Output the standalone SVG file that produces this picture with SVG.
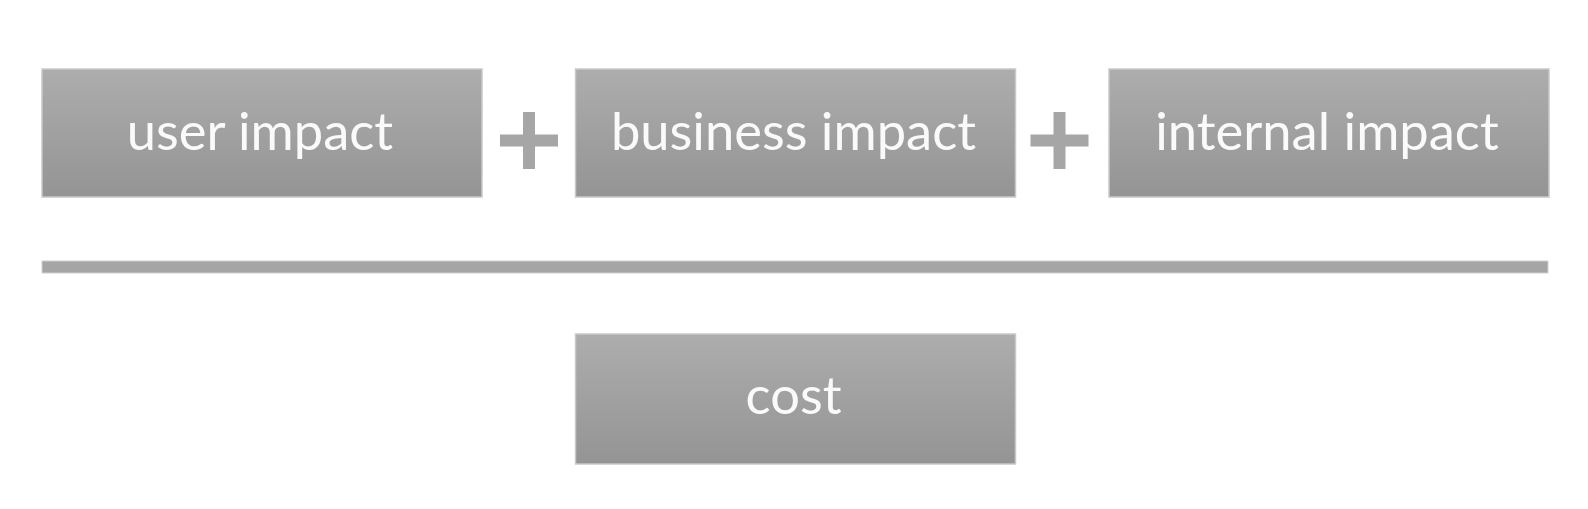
<svg xmlns="http://www.w3.org/2000/svg" width="1588" height="509" viewBox="0 0 1588 509">
<defs>
<linearGradient id="g" x1="0" y1="0" x2="0" y2="1">
<stop offset="0" stop-color="#adadad"/>
<stop offset="1" stop-color="#949494"/>
</linearGradient>
<style>
.box{fill:url(#g);stroke:#c9c9c9;stroke-width:1.5}
.lbl{font-family:Lato,"Liberation Sans",sans-serif;font-size:52.5px;fill:#fafafa;text-anchor:middle}
.op{fill:#a6a6a6}
</style>
</defs>
<rect width="1588" height="509" fill="#ffffff"/>
<g id="user-impact">
<rect class="box" x="42" y="69" width="440" height="128"/>
<text class="lbl" x="260" y="150">user impact</text>
</g>
<g id="plus1">
<rect class="op" x="523" y="112" width="12" height="57"/>
<rect class="op" x="500" y="134.5" width="58" height="12"/>
</g>
<g id="business-impact">
<rect class="box" x="575.5" y="69" width="440" height="128"/>
<text class="lbl" x="793.5" y="150">business impact</text>
</g>
<g id="plus2">
<rect class="op" x="1053.5" y="112" width="12" height="57"/>
<rect class="op" x="1030.5" y="134.5" width="58" height="12"/>
</g>
<g id="internal-impact">
<rect class="box" x="1109" y="69" width="440" height="128"/>
<text class="lbl" x="1327" y="150">internal impact</text>
</g>
<g id="divider">
<rect x="42" y="261" width="1506" height="12" fill="#a5a5a5" stroke="#cfcfcf" stroke-width="1"/>
</g>
<g id="cost">
<rect class="box" x="575.5" y="334" width="440" height="130"/>
<text class="lbl" x="793.5" y="414">cost</text>
</g>
<g id="connectors"></g>
</svg>
